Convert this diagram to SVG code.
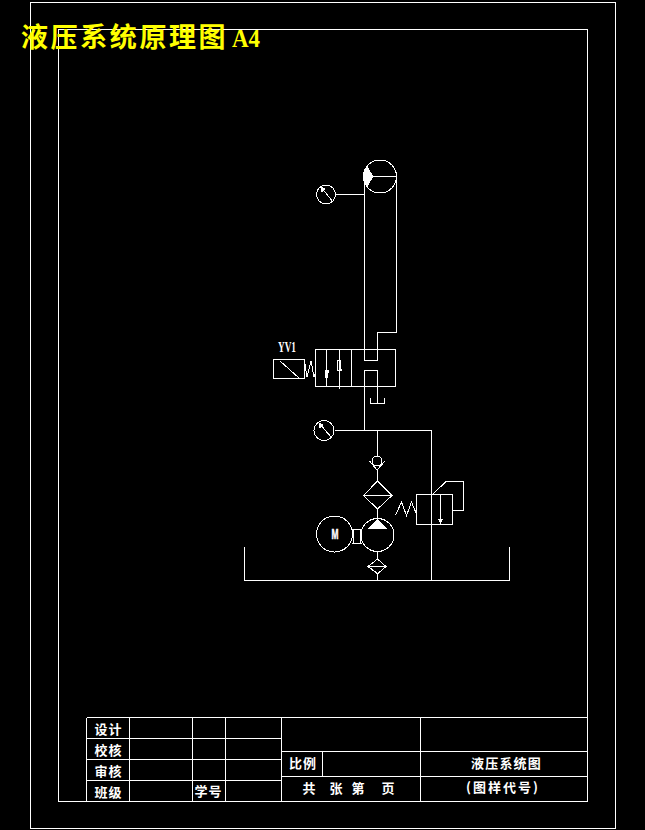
<svg xmlns="http://www.w3.org/2000/svg" width="645" height="830" viewBox="0 0 645 830">
<style>
.l{fill:none;stroke:#fff;stroke-width:1;shape-rendering:crispEdges}
.f{fill:#fff;stroke:#fff;stroke-width:1;shape-rendering:crispEdges}
.t{fill:#fff;font-family:"Noto Sans CJK SC","Liberation Serif",serif;font-size:13px;font-weight:700}
.c{text-anchor:middle}
</style>
<rect width="645" height="830" fill="#000"/>
<g id="frame">
<rect class="l" x="30.5" y="2.5" width="585" height="826"/>
<rect class="l" x="58.5" y="29.5" width="529" height="772"/>
</g>
<text id="title" x="21" y="47" fill="#ff0" font-size="27" font-weight="700" letter-spacing="2.6" font-family="'Noto Sans CJK SC','Liberation Serif',serif">液压系统原理图<tspan x="232" font-family="'Liberation Serif',serif" font-size="25" letter-spacing="0" textLength="28" lengthAdjust="spacingAndGlyphs">A4</tspan></text>
<g id="connectors">
<path class="l" d="M335 194.500H364.500M364.500 176V360.500H377.500V332.500H396.500V176M364.500 176.500H396.500"/>
<path class="l" d="M364.500 430V370.500H377.500V403.500M370.500 398V403.500H384.500V398"/>
<path class="l" d="M335 430.500H431.500V580M377.500 430V456M377.500 470V481M377.500 509V519M377.500 551V559M377.500 574V580"/>
<path class="l" d="M433 494L446 481.500H463.500V510.500H453"/>
<path class="l" d="M244.500 547V580.500H509.500V547"/>
</g>
<g id="gauge-top">
<circle class="l" cx="326" cy="194.500" r="9.500"/>
<path class="l" d="M321 187L333 202"/>
<path class="f" d="M321 187L325 189L322 192Z"/>
</g>
<g id="gauge-bottom">
<circle class="l" cx="324" cy="430.500" r="10"/>
<path class="l" d="M319 423L331 437"/>
<path class="f" d="M319 423L323 425L320 428Z"/>
</g>
<g id="accumulator">
<circle class="l" cx="380" cy="176.500" r="16.500"/>
<path class="f" d="M364 176.500L367 167L373 176.500L367 186Z"/>
</g>
<g id="directional-valve">
<rect class="l" x="315.500" y="349.500" width="80" height="37"/>
<path class="l" d="M351.500 349.500V386.500M326.500 349.500V387M339.500 349V389"/>
<path class="f" d="M325 370H328.500L327 378H326Z"/>
<path class="l" d="M337.500 360.500H340.500V369.500H341.500V370.500H337.500Z"/>
<path class="l" d="M305 364L307 377L311 361L314 377L315.500 372"/>
</g>
<g id="solenoid">
<rect class="l" x="273.500" y="359.500" width="31" height="19"/>
<path class="l" d="M280 361L299 378"/>
<text x="278" y="352" fill="#fff" font-size="15" font-weight="700" font-family="'Liberation Serif',serif" textLength="18" lengthAdjust="spacingAndGlyphs">YV1</text>
</g>
<g id="check-valve">
<circle class="l" cx="377" cy="461" r="5"/>
<path class="l" d="M369.500 461L377 470L385 461"/>
</g>
<g id="filter-top">
<path class="l" d="M377.500 481L392 495.500L377.500 509L363.500 495.500ZM363.500 495.500H392"/>
</g>
<g id="pump">
<circle class="l" cx="377.500" cy="535" r="16.500"/>
<path class="f" d="M377.500 519.500L386.500 528.500H368.500Z"/>
</g>
<g id="motor">
<circle class="l" cx="334.500" cy="534" r="18"/>
<text x="335" y="539" fill="#fff" font-size="14" font-weight="700" font-family="'Liberation Sans',sans-serif" text-anchor="middle" textLength="7" lengthAdjust="spacingAndGlyphs" stroke="#fff" stroke-width="0.5">M</text>
<path class="l" d="M352 529.500H361.500M352 543.500H361.500M353 529.500V543.500M360.500 529.500V543.500"/>
</g>
<g id="filter-bottom">
<path class="l" d="M377.500 559L386 566.500L377.500 574L368 566.500ZM368 566.500H386M371 568L377.500 574L384 568"/>
</g>
<g id="relief-valve">
<rect class="l" x="416.500" y="494.500" width="36" height="30"/>
<path class="l" d="M440.500 494.500V521M395.500 515.500L401.500 502L406.500 515.500L411.500 502L416.500 514"/>
<path class="f" d="M439 519.500H442L440.500 523Z"/>
</g>
<g id="title-block">
<path class="l" d="M86.500 717.500H587M86.500 738.500H281M86.500 759.500H281M86.500 780.500H281M281 751.500H587M281 776.500H587M86.500 717.500V801M129 717.500V801M192.500 717.500V801M225.500 717.500V801M281.500 717.500V801M322.500 751.500V776.500M420.500 717.500V801"/>
<text class="t c" x="108.500" y="734" letter-spacing="1">设计</text>
<text class="t c" x="108.500" y="755" letter-spacing="1">校核</text>
<text class="t c" x="108.500" y="776" letter-spacing="1">审核</text>
<text class="t c" x="108.500" y="797" letter-spacing="1">班级</text>
<text class="t c" x="208.500" y="796" letter-spacing="1">学号</text>
<text class="t c" x="303" y="768" letter-spacing="1">比例</text>
<text class="t c" x="309" y="793">共</text>
<text class="t c" x="336" y="793">张</text>
<text class="t c" x="358" y="793">第</text>
<text class="t c" x="388" y="793">页</text>
<text class="t c" x="506.500" y="768" letter-spacing="1.2">液压系统图</text>
<text class="t c" x="503" y="792" letter-spacing="2">(图样代号)</text>
</g>
</svg>
